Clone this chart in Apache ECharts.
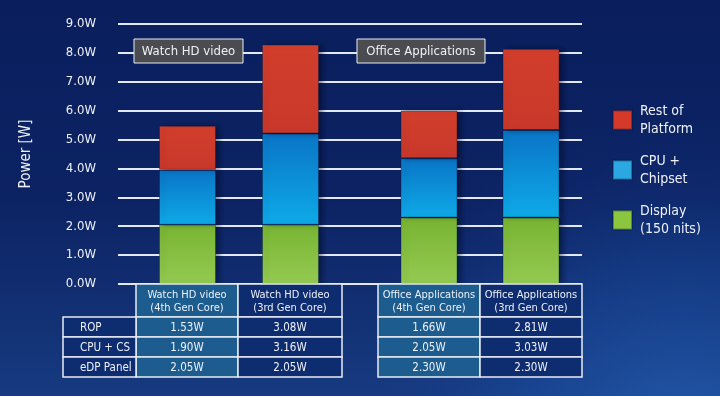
<!DOCTYPE html>
<html><head><meta charset="utf-8">
<script src="https://cdn.jsdelivr.net/npm/echarts@6/dist/echarts.min.js"></script>
<style>html,body{margin:0;padding:0;background:#0b1f5e}#c{width:720px;height:396px}</style>
</head><body><div id="c"></div><script>
// ---- data ----
const groups = ['Watch HD video', 'Office Applications'];
const columnLabels = [
  'Watch HD video\n(4th Gen Core)', 'Watch HD video\n(3rd Gen Core)',
  'Office Applications\n(4th Gen Core)', 'Office Applications\n(3rd Gen Core)'
];
const seriesNames = ['Rest of\nPlatform', 'CPU +\nChipset', 'Display\n(150 nits)'];
const rowLabels = ['ROP', 'CPU + CS', 'eDP Panel'];
const rop = [1.53, 3.08, 1.66, 2.81];
const cpu = [1.90, 3.16, 2.05, 3.03];
const display = [2.05, 2.05, 2.30, 2.30];
const yTicks = [0, 1, 2, 3, 4, 5, 6, 7, 8, 9];
const yAxisName = 'Power [W]';

// ---- styling ----
const FONT = "'Liberation Sans Narrow','DejaVu Sans Condensed','Roboto',sans-serif";
const TXT = '#eef1f8';
const grad = (a, b) => ({type:'linear', x:0, y:0, x2:0, y2:1, colorStops:[{offset:0,color:a},{offset:1,color:b}]});
const fills = [grad('#d23e2c', '#c8382a'), grad('#0a74c6', '#0eaae8'), grad('#78b432', '#94ca52')];
const legendColors = ['#d4392a', '#2ba8e2', '#8cc63f'];
const valueSets = [rop, cpu, display];

const chart = echarts.init(document.getElementById('c'), null, {renderer:'canvas'});

const gridTop = 24, gridH = 260;
const grids = [
  {left:118, top:gridTop, width:464, height:gridH},
  {left:136, top:gridTop, width:206, height:gridH},
  {left:378, top:gridTop, width:204, height:gridH}
];
const xAxes = [
  {gridIndex:0, type:'category', data:['a'], show:false},
  {gridIndex:1, type:'category', data:columnLabels.slice(0,2), show:false},
  {gridIndex:2, type:'category', data:columnLabels.slice(2,4), show:false}
];
const yMin = yTicks[0], yMax = yTicks[yTicks.length-1];
const yAxes = [
  {gridIndex:0, type:'value', min:yMin, max:yMax, interval:1,
   axisLine:{show:false}, axisTick:{show:false},
   splitLine:{lineStyle:{color:'#e4e8f2', width:2}},
   axisLabel:{color:TXT, fontSize:13, fontFamily:FONT, margin:22, formatter:v => v.toFixed(1)+'W'},
   name:yAxisName, nameLocation:'middle', nameGap:84, nameRotate:90,
   nameTextStyle:{color:TXT, fontSize:15, fontFamily:FONT}},
  {gridIndex:1, type:'value', min:yMin, max:yMax, show:false, splitLine:{show:false}},
  {gridIndex:2, type:'value', min:yMin, max:yMax, show:false, splitLine:{show:false}}
];

// stacking order bottom->top: display, cpu, rop
const order = [2, 1, 0];
const series = [];
[1, 2].forEach((g, gi) => {
  order.forEach(si => {
    series.push({
      type:'bar', name:seriesNames[si], xAxisIndex:g, yAxisIndex:g, stack:'s'+g,
      barWidth:57,
      data:valueSets[si].slice(gi*2, gi*2+2),
      itemStyle:{color:fills[si], borderColor:'rgba(0,20,60,0.35)', borderWidth:1,
                 shadowColor:'rgba(0,0,20,0.4)', shadowBlur:5, shadowOffsetX:4},
      emphasis:{disabled:true}
    });
  });
});

// ---- table & annotations (graphic) ----
const graphic = [];
graphic.push({type:'rect', z:-10, silent:true, shape:{x:0,y:0,width:720,height:396},
  style:{fill:{type:'radial', x:0.95, y:1.1, r:0.85,
    colorStops:[{offset:0,color:'rgba(45,115,205,0.5)'},{offset:0.5,color:'rgba(30,90,180,0.3)'},{offset:1,color:'rgba(20,50,130,0)'}]}}});

const colX = [136, 238, 342, 378, 480, 582];
const cellCols = [[colX[0],colX[1]],[colX[1],colX[2]],[colX[3],colX[4]],[colX[4],colX[5]]];
const lightFill = '#1d5c8e', darkFill = '#0e2c70';
const headY = 284, headH = 33, rowH = 20, labelX = 63;
const stroke = {stroke:'#e8ecf4', lineWidth:1.5};
cellCols.forEach((c, ci) => {
  const fill = ci % 2 === 0 ? lightFill : darkFill;
  graphic.push({type:'rect', shape:{x:c[0], y:headY, width:c[1]-c[0], height:headH}, style:Object.assign({fill}, stroke), z:5});
  graphic.push({type:'text', x:(c[0]+c[1])/2, y:headY+headH/2+1, z:6,
    style:{text:columnLabels[ci], fill:TXT, font:"11px "+FONT, align:'center', verticalAlign:'middle', lineHeight:13}});
  [rop, cpu, display].forEach((arr, ri) => {
    const y = headY + headH + ri*rowH;
    graphic.push({type:'rect', shape:{x:c[0], y, width:c[1]-c[0], height:rowH}, style:Object.assign({fill}, stroke), z:5});
    graphic.push({type:'text', x:(c[0]+c[1])/2, y:y+rowH/2+1, z:6,
      style:{text:arr[ci].toFixed(2)+'W', fill:TXT, font:"11.5px "+FONT, align:'center', verticalAlign:'middle'}});
  });
});
rowLabels.forEach((lab, ri) => {
  const y = headY + headH + ri*rowH;
  graphic.push({type:'rect', shape:{x:labelX, y, width:colX[0]-labelX, height:rowH}, style:Object.assign({fill:darkFill}, stroke), z:5});
  graphic.push({type:'text', x:labelX+17, y:y+rowH/2+1, z:6,
    style:{text:lab, fill:TXT, font:"11.5px "+FONT, align:'left', verticalAlign:'middle'}});
});
// annotation boxes
const boxes = [{x:134, w:109}, {x:357, w:128}];
groups.forEach((g, i) => {
  graphic.push({type:'rect', z:5, shape:{x:boxes[i].x, y:39, width:boxes[i].w, height:24},
    style:{fill:'#4b4c50', stroke:'#e8ecf4', lineWidth:1}});
  graphic.push({type:'text', z:6, x:boxes[i].x+boxes[i].w/2, y:52,
    style:{text:g, fill:TXT, font:"13px "+FONT, align:'center', verticalAlign:'middle'}});
});

chart.setOption({
  animation:false,
  backgroundColor:{type:'linear', x:0, y:0, x2:0, y2:1,
    colorStops:[{offset:0,color:'#0a1e5d'},{offset:0.5,color:'#0c2363'},{offset:1,color:'#173a80'}]},
  grid:grids, xAxis:xAxes, yAxis:yAxes, series,
  legend:{data:seriesNames.map((n,i)=>({name:n, itemStyle:{color:legendColors[i]}})),
    orient:'vertical', left:607, top:97, itemWidth:19, itemHeight:19, itemGap:14,
    icon:'rect', selectedMode:false,
    textStyle:{color:TXT, fontSize:14, fontFamily:FONT, lineHeight:18, padding:[0,0,0,3]}},
  graphic
});
</script></body></html>
